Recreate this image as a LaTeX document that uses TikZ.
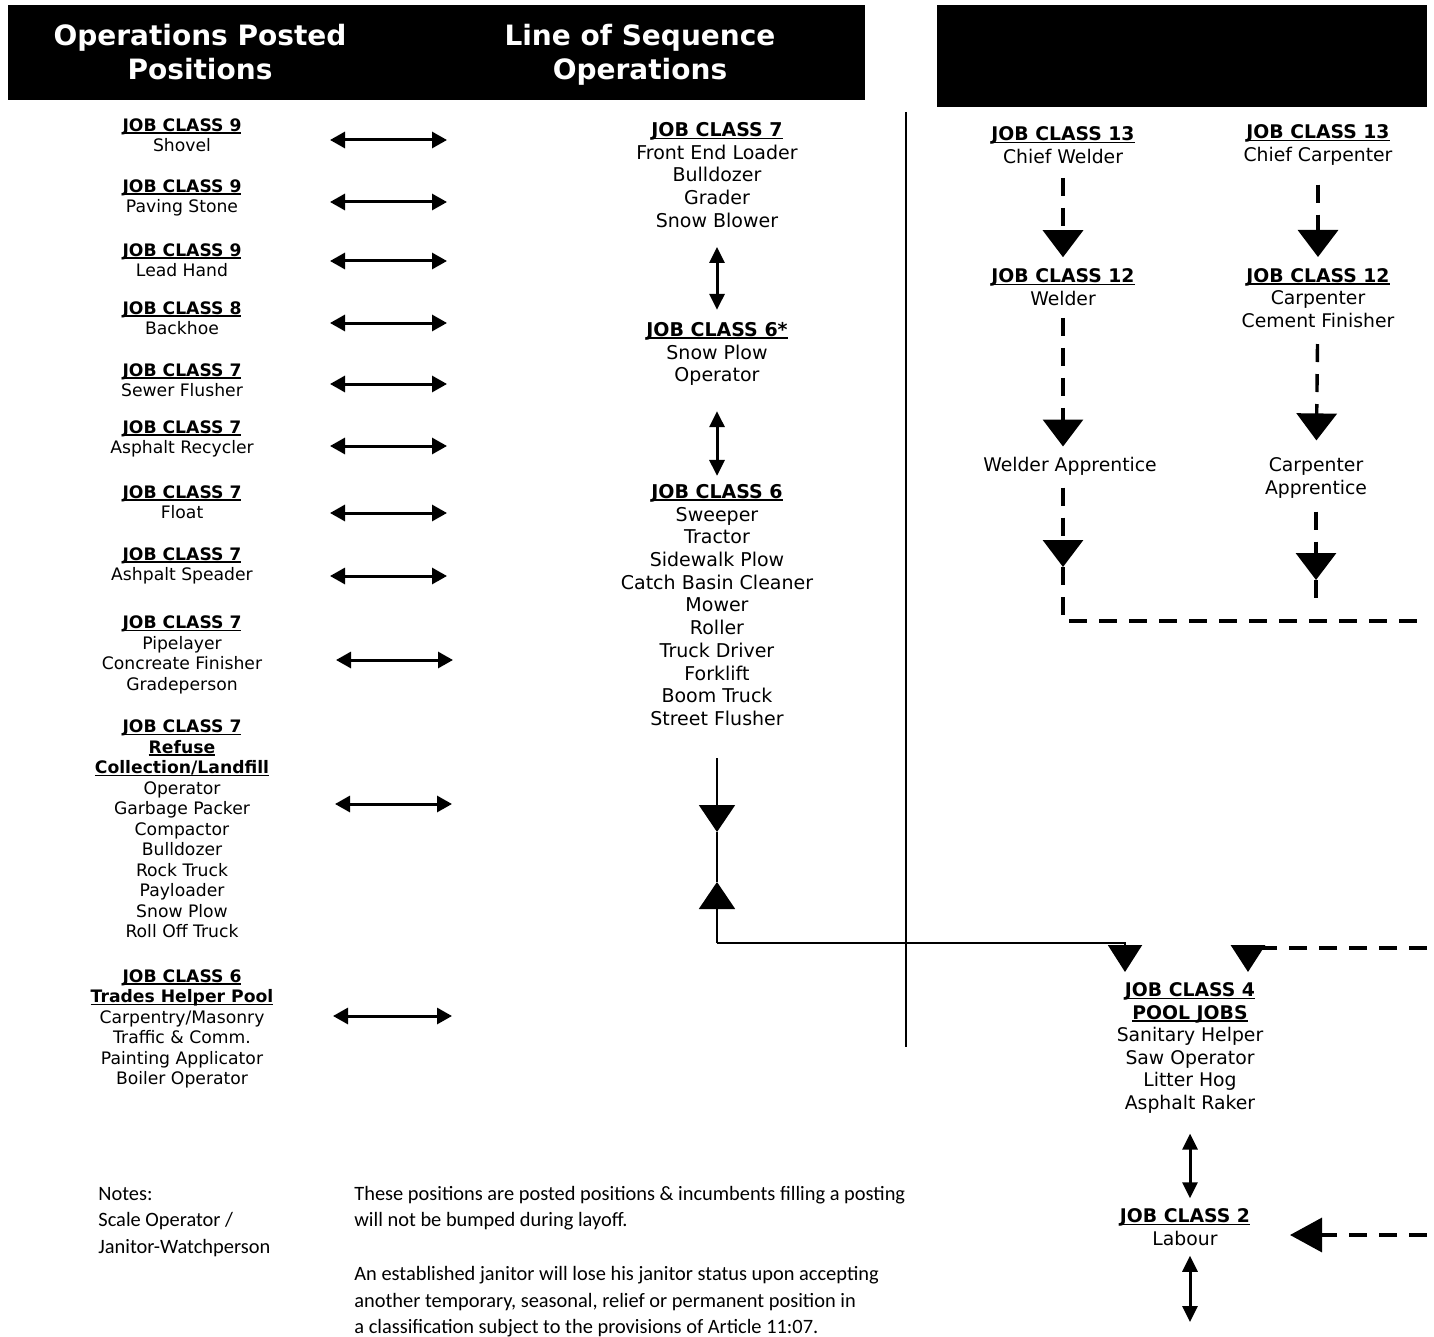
\documentclass[tikz,border=0pt]{standalone}
\usepackage{fontspec}
\setmainfont{DejaVu Sans}
\newfontfamily\notefont{Carlito}
\usetikzlibrary{arrows.meta}

\newcommand{\jc}[1]{\textbf{\setbox0\hbox{#1}\rlap{\rule[-1.3pt]{\wd0}{0.8pt}}\box0}}

\tikzset{
  headtext/.style={align=center,inner sep=0pt,text=white,font=\bfseries\fontsize{14}{17}\selectfont},
  postbox/.style={align=center,inner sep=0pt,font=\fontsize{8.6}{10.25}\selectfont},
  seqbox/.style={align=center,inner sep=0pt,font=\fontsize{9.5}{11.35}\selectfont},
  tradebox/.style={align=center,inner sep=0pt,font=\fontsize{9.4}{11.25}\selectfont},
  notebox/.style={align=left,inner sep=0pt,font=\notefont\fontsize{10.2}{13.25}\selectfont},
  postarrow/.style={line width=1.5pt,{Triangle[length=7.5pt,width=8pt]}-{Triangle[length=7.5pt,width=8pt]}},
  seqarrow/.style={line width=1.5pt,{Triangle[length=8pt,width=7.5pt]}-{Triangle[length=8pt,width=7.5pt]}},
  thinline/.style={line width=1pt},
  jointip/.style={thinline,-{Triangle[length=13.5pt,width=18pt]}},
  dashline/.style={line width=1.7pt,dash pattern=on 9pt off 6pt},
  dasharrow/.style={dashline,-{Triangle[length=13.5pt,width=20pt]}}
}

\begin{document}
\begin{tikzpicture}[x=0.5pt,y=-0.5pt]
  \useasboundingbox (0,0) rectangle (1434,1337);
  \fill (8,5) rectangle (865,100);
  \fill (937,5) rectangle (1427,107);
  \node[headtext] at (200,52) (posted) {Operations Posted\\Positions};
  \node[headtext] at (640,55) (lineseq) {Line of Sequence\\Operations};
  \draw[line width=0.8pt] (906,112) -- (906,1047);

  \node[postbox] at (182,135) (p1) {\jc{JOB CLASS 9}\\Shovel};
  \node[postbox] at (182,198) (p2) {\jc{JOB CLASS 9}\\Paving Stone};
  \node[postbox] at (182,260) (p3) {\jc{JOB CLASS 9}\\Lead Hand};
  \node[postbox] at (182,318) (p4) {\jc{JOB CLASS 8}\\Backhoe};
  \node[postbox] at (182,380) (p5) {\jc{JOB CLASS 7}\\Sewer Flusher};
  \node[postbox] at (182,439) (p6) {\jc{JOB CLASS 7}\\Asphalt Recycler};
  \node[postbox] at (182,502) (p7) {\jc{JOB CLASS 7}\\Float};
  \node[postbox] at (182,566) (p8) {\jc{JOB CLASS 7}\\Ashpalt Speader};
  \node[postbox] at (182,655) (p9) {\jc{JOB CLASS 7}\\Pipelayer\\Concreate Finisher\\Gradeperson};
  \node[postbox] at (182,829) (p10) {\jc{JOB CLASS 7}\\\jc{Refuse}\\\jc{Collection/Landfill}\\Operator\\Garbage Packer\\Compactor\\Bulldozer\\Rock Truck\\Payloader\\Snow Plow\\Roll Off Truck};
  \node[postbox] at (182,1029) (p11) {\jc{JOB CLASS 6}\\\jc{Trades Helper Pool}\\Carpentry/Masonry\\Traffic \& Comm.\\Painting Applicator\\Boiler Operator};

  \coordinate (p1a) at (330,140);  \coordinate (p1b) at (447,140);
  \coordinate (p2a) at (330,202);  \coordinate (p2b) at (447,202);
  \coordinate (p3a) at (330,261);  \coordinate (p3b) at (447,261);
  \coordinate (p4a) at (330,323);  \coordinate (p4b) at (447,323);
  \coordinate (p5a) at (330,384);  \coordinate (p5b) at (447,384);
  \coordinate (p6a) at (330,446);  \coordinate (p6b) at (447,446);
  \coordinate (p7a) at (330,513);  \coordinate (p7b) at (447,513);
  \coordinate (p8a) at (330,576);  \coordinate (p8b) at (447,576);
  \coordinate (p9a) at (336,660);  \coordinate (p9b) at (453,660);
  \coordinate (p10a) at (335,804); \coordinate (p10b) at (452,804);
  \coordinate (p11a) at (333,1016); \coordinate (p11b) at (452,1016);
  \draw[postarrow] (p1a) -- (p1b);
  \draw[postarrow] (p2a) -- (p2b);
  \draw[postarrow] (p3a) -- (p3b);
  \draw[postarrow] (p4a) -- (p4b);
  \draw[postarrow] (p5a) -- (p5b);
  \draw[postarrow] (p6a) -- (p6b);
  \draw[postarrow] (p7a) -- (p7b);
  \draw[postarrow] (p8a) -- (p8b);
  \draw[postarrow] (p9a) -- (p9b);
  \draw[postarrow] (p10a) -- (p10b);
  \draw[postarrow] (p11a) -- (p11b);

  \node[seqbox] at (717,175) (s7) {\jc{JOB CLASS 7}\\Front End Loader\\Bulldozer\\Grader\\Snow Blower};
  \node[seqbox] at (717,354) (s6star) {\jc{JOB CLASS 6*}\\Snow Plow\\Operator};
  \node[seqbox] at (717,605) (s6) {\jc{JOB CLASS 6}\\Sweeper\\Tractor\\Sidewalk Plow\\Catch Basin Cleaner\\Mower\\Roller\\Truck Driver\\Forklift\\Boom Truck\\Street Flusher};
  \draw[seqarrow,shorten <=9.5pt,shorten >=6pt] (s7) -- (s6star);
  \draw[seqarrow,shorten <=12.5pt,shorten >=4pt] (s6star) -- (s6);

  \coordinate (mdown) at (717,832);
  \coordinate (mup) at (717,882);
  \coordinate (mcorner) at (717,943);
  \coordinate (pin1) at (1125,972);
  \coordinate (pin2) at (1248,972);
  \coordinate (edge2) at (1427,948);
  \draw[jointip,shorten <=16pt] (s6.south) -- (mdown);
  \draw[thinline] (mdown) -- (mup);
  \draw[jointip] (mcorner) -- (mup);
  \draw[thinline,-{Triangle[length=13.5pt,width=17pt]}] (mcorner) -| (pin1);
  \draw[dashline,-{Triangle[length=13.5pt,width=17pt]}] (edge2) -| (pin2);

  \node[tradebox] at (1063,145) (w13) {\jc{JOB CLASS 13}\\Chief Welder};
  \node[tradebox] at (1063,287) (w12) {\jc{JOB CLASS 12}\\Welder};
  \node[tradebox] at (1070,466) (wapp) {Welder Apprentice};
  \node[tradebox] at (1318,145) (c13) {\jc{JOB CLASS 13}\\Chief Carpenter};
  \node[tradebox] at (1318,298) (c12) {\jc{JOB CLASS 12}\\Carpenter\\Cement Finisher};
  \node[tradebox] at (1316,478) (capp) {Carpenter\\Apprentice};
  \coordinate (wtip) at (1063,567);
  \coordinate (edge1) at (1427,621);
  \coordinate (ctip) at (1316,580);
  \coordinate (cend) at (1316,608);
  \draw[dasharrow,shorten <=7pt,shorten >=5.5pt] (w13) -- (w12);
  \draw[dasharrow,shorten <=6pt,shorten >=5pt] (w12.south) -- (w12.south |- wapp.north);
  \draw[dasharrow,shorten <=6pt] (wtip |- wapp.south) -- (wtip);
  \draw[dashline] (wtip) |- (edge1);
  \draw[dasharrow,shorten <=9.5pt,shorten >=5.5pt] (c13) -- (c12);
  \draw[dasharrow,shorten <=8pt,shorten >=8.5pt] (c12) -- (capp);
  \draw[dasharrow,shorten <=6.5pt] (capp) -- (ctip);
  \draw[dashline] (ctip) -- (cend);

  \node[tradebox] at (1190,1048) (pool) {\jc{JOB CLASS 4}\\\jc{POOL JOBS}\\Sanitary Helper\\Saw Operator\\Litter Hog\\Asphalt Raker};
  \node[tradebox] at (1185,1227) (jc2) {\jc{JOB CLASS 2}\\Labour};
  \coordinate (lowend) at (1190,1322);
  \coordinate (edge3) at (1427,1235);
  \coordinate (labtip) at (1290,1235);
  \draw[seqarrow,shorten <=10pt,shorten >=5pt] (pool) -- (pool |- jc2.north);
  \draw[seqarrow,shorten <=5pt] (lowend |- jc2.south) -- (lowend);
  \draw[dashline,-{Triangle[length=16pt,width=17pt]}] (edge3) -- (labtip);

  \node[notebox,anchor=west] at (98,1222) (notes) {Notes:\\Scale Operator /\\Janitor-Watchperson};
  \node[notebox,anchor=west] at (354,1208) (posting) {These positions are posted positions \& incumbents filling a posting\\will not be bumped during layoff.};
  \node[notebox,anchor=west] at (354,1302) (janitor) {An established janitor will lose his janitor status upon accepting\\another temporary, seasonal, relief or permanent position in\\a classification subject to the provisions of Article 11:07.};
\end{tikzpicture}
\end{document}
